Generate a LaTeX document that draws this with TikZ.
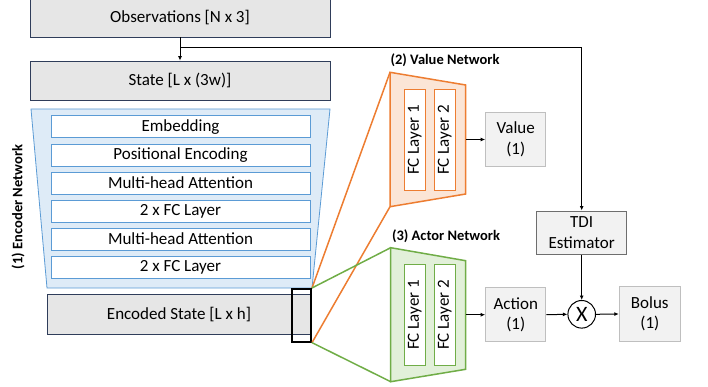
\documentclass[tikz,border=0pt]{standalone}
\usepackage{fontspec}
\setmainfont{Carlito}
\usetikzlibrary{arrows.meta}
\definecolor{navy}{HTML}{2F3D5A}
\definecolor{boxgray}{HTML}{E6E6E6}
\definecolor{lightgray}{HTML}{F2F2F2}
\definecolor{midgray}{HTML}{BFBFBF}
\definecolor{darkgray}{HTML}{6E6E6E}
\definecolor{encblue}{HTML}{5B9BD5}
\definecolor{encfill}{HTML}{DEEBF7}
\definecolor{orng}{HTML}{ED7D31}
\definecolor{orngfill}{HTML}{FBE5D6}
\definecolor{grn}{HTML}{70AD47}
\definecolor{grnfill}{HTML}{E2F0D9}
\tikzset{
  txt/.style={font=\fontsize{17}{20.5}\selectfont},
  bigbox/.style={txt,draw=navy,fill=boxgray,line width=0.8pt,inner sep=0pt,minimum width=300pt,minimum height=39pt},
  layerbox/.style={txt,draw=encblue,fill=white,line width=0.8pt,inner sep=0pt,minimum width=259pt,minimum height=22pt},
  fcbox/.style={txt,fill=white,line width=1pt,inner sep=0pt,minimum width=20.7pt,minimum height=101.4pt},
  outbox/.style={txt,draw=midgray,fill=lightgray,line width=1pt,inner sep=0pt,minimum width=60.3pt,minimum height=54.4pt,align=center},
  netlabel/.style={font=\fontsize{14.5}{17}\selectfont\bfseries},
  conn/.style={line width=1pt,-{Latex[length=4.5pt,width=4pt]}},
  trap/.style={line width=1.5pt},
}
\begin{document}
\begin{tikzpicture}[x=1pt,y=-1pt]
\useasboundingbox (0,0) rectangle (708,387);
% top boxes
\node[bigbox] (obs) at (180,17.5) {Observations [N x 3]};
\node[bigbox] (state) at (180,80.5) {State [L x (3w)]};
% encoder
\draw[draw=encblue,fill=encfill,line width=0.8pt] (31,109) -- (330,109) -- (312,288) -- (47,288) -- cycle;
\node[layerbox] (l1) at (180.5,126.7) {Embedding};
\node[layerbox] (l2) at (180.5,155) {Positional Encoding};
\node[layerbox] (l3) at (180.5,183) {Multi-head Attention};
\node[layerbox] (l4) at (180.5,211) {2 x FC Layer};
\node[layerbox] (l5) at (180.5,239) {Multi-head Attention};
\node[layerbox] (l6) at (180.5,267) {2 x FC Layer};
\node[netlabel,rotate=90] (enclab) at (18,207) {(1) Encoder Network};
\node[bigbox,minimum width=264pt,minimum height=40pt] (enc) at (179,314.3) {Encoded State [L x h]};
% value network
\coordinate (vtl) at (390,72.3);
\coordinate (vtr) at (465.7,85);
\coordinate (vbr) at (465.7,194);
\coordinate (vbl) at (390,206.7);
\draw[trap,draw=orng,fill=orngfill] (vtl) -- (vtr) -- (vbr) -- (vbl) -- cycle;
\node[fcbox,draw=orng] (vfc1) at (414.7,140) {\rotatebox{90}{FC Layer 1}};
\node[fcbox,draw=orng] (vfc2) at (444.8,140) {\rotatebox{90}{FC Layer 2}};
\node[netlabel] (vlab) at (445,60.7) {(2) Value Network};
\node[outbox] (value) at (515.8,139.5) {Value\\(1)};
% actor network
\coordinate (atl) at (390.7,247.7);
\coordinate (atr) at (465.7,260.7);
\coordinate (abr) at (465.7,369.3);
\coordinate (abl) at (390.7,381.7);
\draw[trap,draw=grn,fill=grnfill] (atl) -- (atr) -- (abr) -- (abl) -- cycle;
\node[fcbox,draw=grn] (afc1) at (414.7,315) {\rotatebox{90}{FC Layer 1}};
\node[fcbox,draw=grn] (afc2) at (444.8,315) {\rotatebox{90}{FC Layer 2}};
\node[netlabel] (alab) at (446,236) {(3) Actor Network};
\node[outbox,minimum height=54pt] (action) at (515.8,314.7) {Action\\(1)};
% selection box
\node[draw=black,line width=2pt,inner sep=0pt,minimum width=19pt,minimum height=52.7pt] (sel) at (301.5,315.3) {};
\draw[trap,draw=orng] (sel.north east) -- (vtl);
\draw[trap,draw=orng] (sel.south east) -- (vbl);
\draw[trap,draw=grn] (sel.north east) -- (atl);
\draw[trap,draw=grn] (sel.south east) -- (abl);
% right side
\node[outbox,draw=darkgray,minimum width=90pt,minimum height=43pt] (tdi) at (581.7,232.5) {TDI\\Estimator};
\node[draw=black,line width=1pt,circle,inner sep=0pt,minimum size=27.6pt,font=\fontsize{22}{24}\selectfont] (mul) at (581.7,314.3) {X};
\node[outbox,minimum width=61pt,minimum height=54.6pt] (bolus) at (649.8,314) {Bolus\\(1)};
% connectors
\coordinate (br) at (180,48);
\coordinate (vout) at (465.7,139.5);
\coordinate (aout) at (465.7,314.7);
\draw[conn] (obs.south) -- (state.north);
\draw[conn] (br) -| (tdi.north);
\draw[conn] (vout) -- (value.west);
\draw[conn] (aout) -- (action.west);
\draw[conn] (action.east) -- (mul.west);
\draw[conn] (mul.east) -- (bolus.west);
\draw[conn] (tdi.south) -- (mul.north);
\end{tikzpicture}
\end{document}
